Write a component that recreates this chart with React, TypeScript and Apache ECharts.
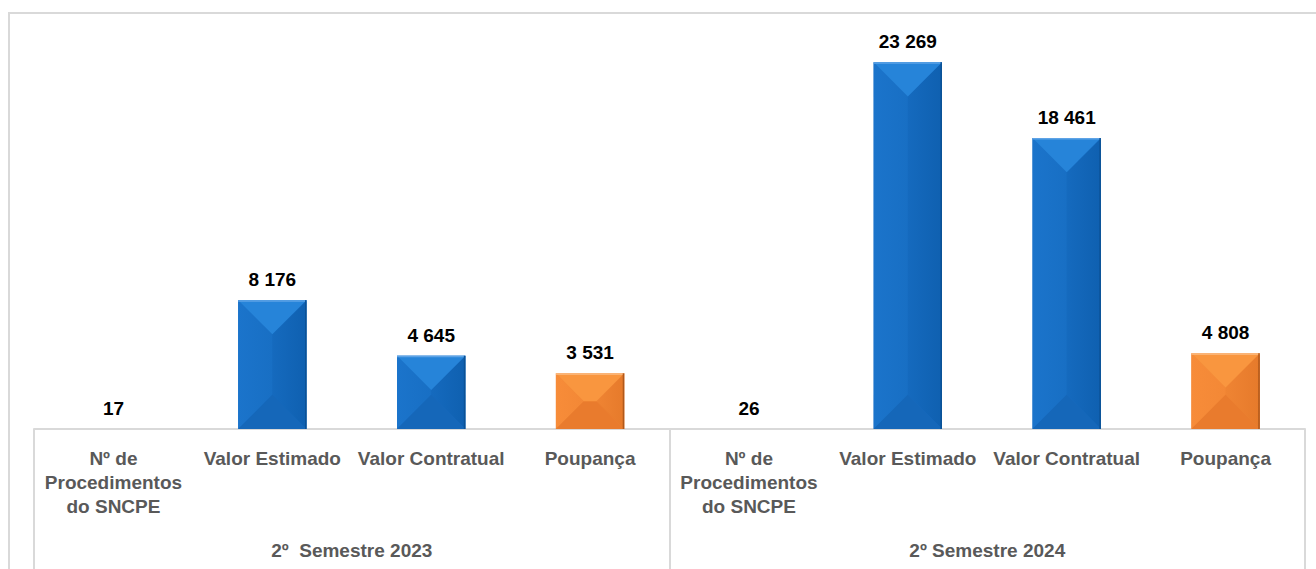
import React, { useEffect, useRef } from "react";
import * as echarts from "echarts";

const categories = [
  "Nº de\nProcedimentos\ndo SNCPE",
  "Valor Estimado",
  "Valor Contratual",
  "Poupança",
  "Nº de\nProcedimentos\ndo SNCPE",
  "Valor Estimado",
  "Valor Contratual",
  "Poupança",
];
const groups = ["2º  Semestre 2023", "2º Semestre 2024"];
const values = [17, 8176, 4645, 3531, 26, 23269, 18461, 4808];
const savingsLabel = "Poupança";

const BLUE = {
  top: "#2684d9",
  leftA: "#1b74cb",
  leftB: "#186fc4",
  rightA: "#156abe",
  rightB: "#0f60b0",
  bottom: "#1567b9",
  center: "#176cc2",
  hi: "#5ea3e6",
  edge: "#0b5296",
};
const ORANGE = {
  top: "#f9963f",
  leftA: "#f78c39",
  leftB: "#f38836",
  rightA: "#ef8433",
  rightB: "#e67a2b",
  bottom: "#e97b2d",
  center: "#f08534",
  hi: "#fbbd86",
  edge: "#b0591c",
};

const FONT = "'Liberation Sans', Arial, sans-serif";

function fmt(v: number) {
  return String(v).replace(/\B(?=(\d{3})+(?!\d))/g, " ");
}

function hGrad(a: string, b: string) {
  return new echarts.graphic.LinearGradient(0, 0, 1, 0, [
    { offset: 0, color: a },
    { offset: 1, color: b },
  ]);
}

export default function App() {
  const ref = useRef<HTMLDivElement>(null);
  useEffect(() => {
    if (!ref.current) return;
    const chart = echarts.init(ref.current, undefined, { renderer: "svg" });
    const data = values.map((v, i) => [i, v]);
    chart.setOption({
      animation: false,
      backgroundColor: "#ffffff",
      graphic: [
        {
          type: "rect",
          silent: true,
          z: -10,
          shape: { x: 9, y: 13, width: 1400, height: 700 },
          style: { fill: "none", stroke: "#d9d9d9", lineWidth: 2 },
        },
      ],
      grid: { left: 34, right: 11, top: 35, bottom: 140 },
      xAxis: [
        {
          type: "category",
          data: categories,
          boundaryGap: true,
          axisLine: { show: true, lineStyle: { color: "#d9d9d9", width: 2 } },
          axisTick: {
            show: true,
            length: 145,
            interval: (i: number) => i % 4 === 0,
            lineStyle: { color: "#d9d9d9", width: 2 },
          },
          axisLabel: {
            interval: 0,
            margin: 17,
            color: "#595959",
            fontFamily: FONT,
            fontWeight: "bold",
            fontSize: 19,
            lineHeight: 24,
          },
        },
        {
          type: "category",
          data: groups,
          position: "bottom",
          axisLine: { show: false },
          axisTick: { show: false },
          axisLabel: {
            interval: 0,
            margin: 112,
            color: "#595959",
            fontFamily: FONT,
            fontWeight: "bold",
            fontSize: 19,
          },
        },
      ],
      yAxis: { type: "value", min: 0, max: 25000, show: false, splitLine: { show: false } },
      series: [
        {
          type: "custom",
          xAxisIndex: 0,
          data,
          renderItem: (params: any, api: any) => {
            const idx = api.value(0);
            const v = api.value(1);
            const top = api.coord([idx, v]);
            const bot = api.coord([idx, 0]);
            const cx = top[0];
            const w = api.size([1, 0])[0] * 0.43;
            const x0 = cx - w / 2;
            const x1 = cx + w / 2;
            const y0 = top[1];
            const y1 = bot[1];
            const h = y1 - y0;
            const c = categories[idx] === savingsLabel ? ORANGE : BLUE;
            const children: any[] = [];
            if (h >= 1) {
              const d = Math.min(w, h) / 2;
              children.push(
                { type: "rect", shape: { x: x0, y: y0, width: w, height: h }, style: { fill: c.center } },
                { type: "polygon", shape: { points: [[x0, y0], [x0 + d, y0 + d], [x0 + d, y1 - d], [x0, y1]] }, style: { fill: hGrad(c.leftA, c.leftB) } },
                { type: "polygon", shape: { points: [[x1, y0], [x1 - d, y0 + d], [x1 - d, y1 - d], [x1, y1]] }, style: { fill: hGrad(c.rightA, c.rightB) } },
                { type: "polygon", shape: { points: [[x0, y1], [x1, y1], [x1 - d, y1 - d], [x0 + d, y1 - d]] }, style: { fill: c.bottom } },
                { type: "polygon", shape: { points: [[x0, y0], [x1, y0], [x1 - d, y0 + d], [x0 + d, y0 + d]] }, style: { fill: c.top } },
                { type: "line", shape: { x1: x0, y1: y0 + 0.75, x2: x1, y2: y0 + 0.75 }, style: { stroke: c.hi, lineWidth: 1.5 } },
                { type: "line", shape: { x1: x1 - 0.75, y1: y0, x2: x1 - 0.75, y2: y1 }, style: { stroke: c.edge, lineWidth: 1.5 } }
              );
            }
            children.push({
              type: "text",
              x: cx,
              y: y0 - 11,
              style: {
                text: fmt(v),
                fill: "#000000",
                fontFamily: FONT,
                fontWeight: "bold",
                fontSize: 19,
                align: "center",
                verticalAlign: "bottom",
              },
            });
            return { type: "group", children };
          },
        },
      ],
    });
    return () => chart.dispose();
  }, []);
  return (
    <div
      ref={ref}
      style={{ position: "absolute", left: 0, top: 0, width: 1316, height: 569 }}
    />
  );
}
